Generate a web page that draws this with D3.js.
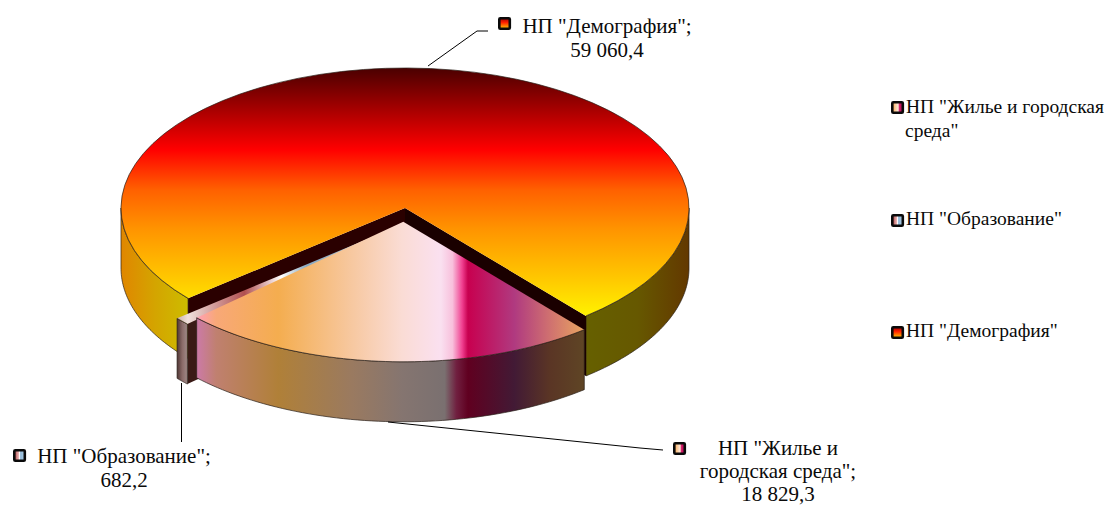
<!DOCTYPE html>
<html>
<head>
    <meta charset="utf-8">
    <style>
        html, body { margin: 0; padding: 0; background: #fff; overflow: hidden; }
        text { font-family: "Liberation Serif", serif; fill: #0a0a0a; }
        .label { font-size: 21px; }
        .legend { font-size: 19.5px; }
    </style>
    <script src="https://d3js.org/d3.v7.min.js"></script>
</head>
<body>
    <svg width="1105" height="507"></svg>
    <script>
        var categories = ['НП "Демография"', 'НП "Жилье и городская среда"', 'НП "Образование"'];
        var values = [59060.4, 18829.3, 682.2];
        var legendOrder = ['НП "Жилье и городская среда"', 'НП "Образование"', 'НП "Демография"'];

        var svg = d3.select("svg");
        var defs = svg.append("defs");

        var cx = 405, cy = 208, rx = 284, ry = 140, depth = 60;
        var startDeg = 229.8;
        var fmt = d3.formatLocale({decimal: ",", thousands: " ", grouping: [3]}).format(",.1f");

        // makes a gradient from [offset, color] pairs, horizontal unless vertical is set
        function gradient(id, stops, vertical) {
            var g = defs.append("linearGradient").attr("id", id)
                .attr("x1", 0).attr("y1", 0)
                .attr("x2", vertical ? 0 : 1).attr("y2", vertical ? 1 : 0);
            stops.forEach(function(s) {
                g.append("stop").attr("offset", s[0]).attr("stop-color", s[1]);
            });
        }

        gradient("demoTop", [[0, "#4a0000"], [0.17, "#a80000"], [0.33, "#ff0000"], [0.49, "#ff6000"],
            [0.65, "#ff9400"], [0.85, "#ffc800"], [1, "#fff200"]], true);
        gradient("demoLeft", [[0, "#e08600"], [0.5, "#d4a400"], [1, "#cdbc00"]]);
        gradient("demoRight", [[0, "#666000"], [0.5, "#665800"], [1, "#633800"]]);
        gradient("housingTop", [[0, "#ffa0b8"], [0.05, "#f8a878"], [0.21, "#f4ad4f"], [0.4, "#f7c8a0"],
            [0.53, "#fadcd5"], [0.63, "#fae0f0"], [0.66, "#f8c0dc"], [0.685, "#f04090"], [0.7, "#c8004f"],
            [0.82, "#b03a80"], [0.91, "#cf7070"], [1, "#e8a560"]]);
        gradient("housingWall", [[0, "#cc7aa8"], [0.05, "#c08070"], [0.21, "#b08038"], [0.4, "#9a7a60"],
            [0.53, "#857570"], [0.64, "#7a7070"], [0.67, "#702040"], [0.7, "#600020"],
            [0.82, "#421a35"], [0.91, "#5a3525"], [1, "#5f4525"]]);
        gradient("eduTop", [[0, "#c8b0a8"], [0.05, "#f0e0dc"], [0.31, "#b05050"], [0.48, "#ffffff"],
            [0.6, "#88a8c0"], [1, "#c0d0e0"]]);
        gradient("eduWall", [[0, "#4f3634"], [0.5, "#8a6a68"], [1, "#a08a88"]]);
        gradient("keyDemo", [[0, "#a00000"], [0.4, "#ff2000"], [1, "#ffd000"]], true);
        gradient("keyHousing", [[0, "#f8a850"], [0.55, "#fde8d8"], [0.7, "#d01060"], [1, "#b02060"]]);
        gradient("keyEdu", [[0, "#a84040"], [0.4, "#e8b0b0"], [0.5, "#ffffff"], [0.6, "#90b8d8"], [1, "#b0d0e8"]]);

        var pie = d3.pie().sort(null)
            .startAngle(startDeg * Math.PI / 180)
            .endAngle(startDeg * Math.PI / 180 + 2 * Math.PI);
        var slices = pie(values);
        var demo = slices[0], housing = slices[1], edu = slices[2];

        var sector = d3.arc().innerRadius(0).outerRadius(rx);
        var line = d3.line();

        function rim(a, dx, dy, down) {
            return [cx + dx + rx * Math.sin(a), cy + dy - ry * Math.cos(a) + (down || 0)];
        }

        function sweep(a0, a1, dx, dy, down) {
            var n = 60;
            return d3.range(n + 1).map(function(i) {
                return rim(a0 + (a1 - a0) * i / n, dx, dy, down);
            });
        }

        // curved outside wall between two angles
        function outerWall(a0, a1, dx, dy, fill) {
            var pts = sweep(a0, a1, dx, dy, 0).concat(sweep(a1, a0, dx, dy, depth));
            svg.append("path").attr("d", line(pts) + "Z")
                .attr("fill", fill).attr("stroke", "#2a2018").attr("stroke-width", 0.7);
        }

        // flat cut face going from the centre out to the rim
        function cutFace(a, dx, dy, fill) {
            var c = [cx + dx, cy + dy], r = rim(a, dx, dy, 0);
            var pts = [c, r, [r[0], r[1] + depth], [c[0], c[1] + depth]];
            svg.append("path").attr("d", line(pts) + "Z").attr("fill", fill);
        }

        function topFace(d, dx, dy, fill) {
            svg.append("path").attr("d", sector(d))
                .attr("transform", "translate(" + (cx + dx) + "," + (cy + dy) + ") scale(1," + (ry / rx) + ")")
                .attr("fill", fill);
            svg.append("path").attr("d", line(sweep(d.startAngle, d.endAngle, dx, dy, 0)))
                .attr("fill", "none").attr("stroke", "#2a2018").attr("stroke-width", 0.7);
        }

        // Демография
        outerWall(demo.startAngle, 1.5 * Math.PI, 0, 0, "url(#demoLeft)");
        outerWall(2.5 * Math.PI, demo.endAngle, 0, 0, "url(#demoRight)");
        cutFace(demo.startAngle, 0, 0, "#2a0000");
        cutFace(demo.endAngle, 0, 0, "#1a0000");
        topFace(demo, 0, 0, "url(#demoTop)");

        // Образование
        var eduDx = -11, eduDy = 20;
        cutFace(edu.startAngle, eduDx, eduDy, "#3a1a16");
        outerWall(edu.startAngle, edu.endAngle, eduDx, eduDy, "url(#eduWall)");
        topFace(edu, eduDx, eduDy, "url(#eduTop)");

        // Жилье, выдвинут вдоль своей средней линии
        var mid = (housing.startAngle + housing.endAngle) / 2;
        var housingDx = 28 * Math.sin(mid), housingDy = -28 * Math.cos(mid) * ry / rx;
        outerWall(housing.startAngle, housing.endAngle, housingDx, housingDy, "url(#housingWall)");
        topFace(housing, housingDx, housingDy, "url(#housingTop)");

        // leader lines
        var leaders = [
            [[428, 66], [477, 31], [488, 31]],
            [[181.5, 383], [181.5, 442]],
            [[388, 422], [640, 448], [663, 450]]
        ];
        leaders.forEach(function(l) {
            svg.append("path").attr("d", line(l)).attr("fill", "none").attr("stroke", "#000").attr("stroke-width", 1);
        });

        function key(x, y, fill) {
            svg.append("rect").attr("x", x + 1.3).attr("y", y + 1.3).attr("width", 10.5).attr("height", 10.5)
                .attr("rx", 1).attr("fill", fill).attr("stroke", "#0a0a0a").attr("stroke-width", 2.6);
        }

        function label(x, y, lines, cls, anchor, step) {
            lines.forEach(function(t, i) {
                svg.append("text").attr("class", cls).attr("x", x).attr("y", y + i * (step || 24))
                    .attr("text-anchor", anchor || "middle").text(t);
            });
        }

        // data labels
        key(498, 17, "url(#keyDemo)");
        label(607, 33, [categories[0] + ";", fmt(values[0])], "label");
        key(673, 442, "url(#keyHousing)");
        // a bit tighter than the others so the last line stays inside the page
        label(778, 455, ['НП "Жилье и', 'городская среда";', fmt(values[1])], "label", "middle", 23);
        key(13, 449, "url(#keyEdu)");
        label(124, 463, [categories[2] + ";", fmt(values[2])], "label");

        // legend
        key(891, 101, "url(#keyHousing)");
        label(906, 113, ['НП "Жилье и городская'], "legend", "start");
        label(905, 137, ['среда"'], "legend", "start");
        key(891, 214, "url(#keyEdu)");
        label(906, 225, [legendOrder[1]], "legend", "start");
        key(891, 326, "url(#keyDemo)");
        label(906, 337, [legendOrder[2]], "legend", "start");
    </script>
</body>
</html>
